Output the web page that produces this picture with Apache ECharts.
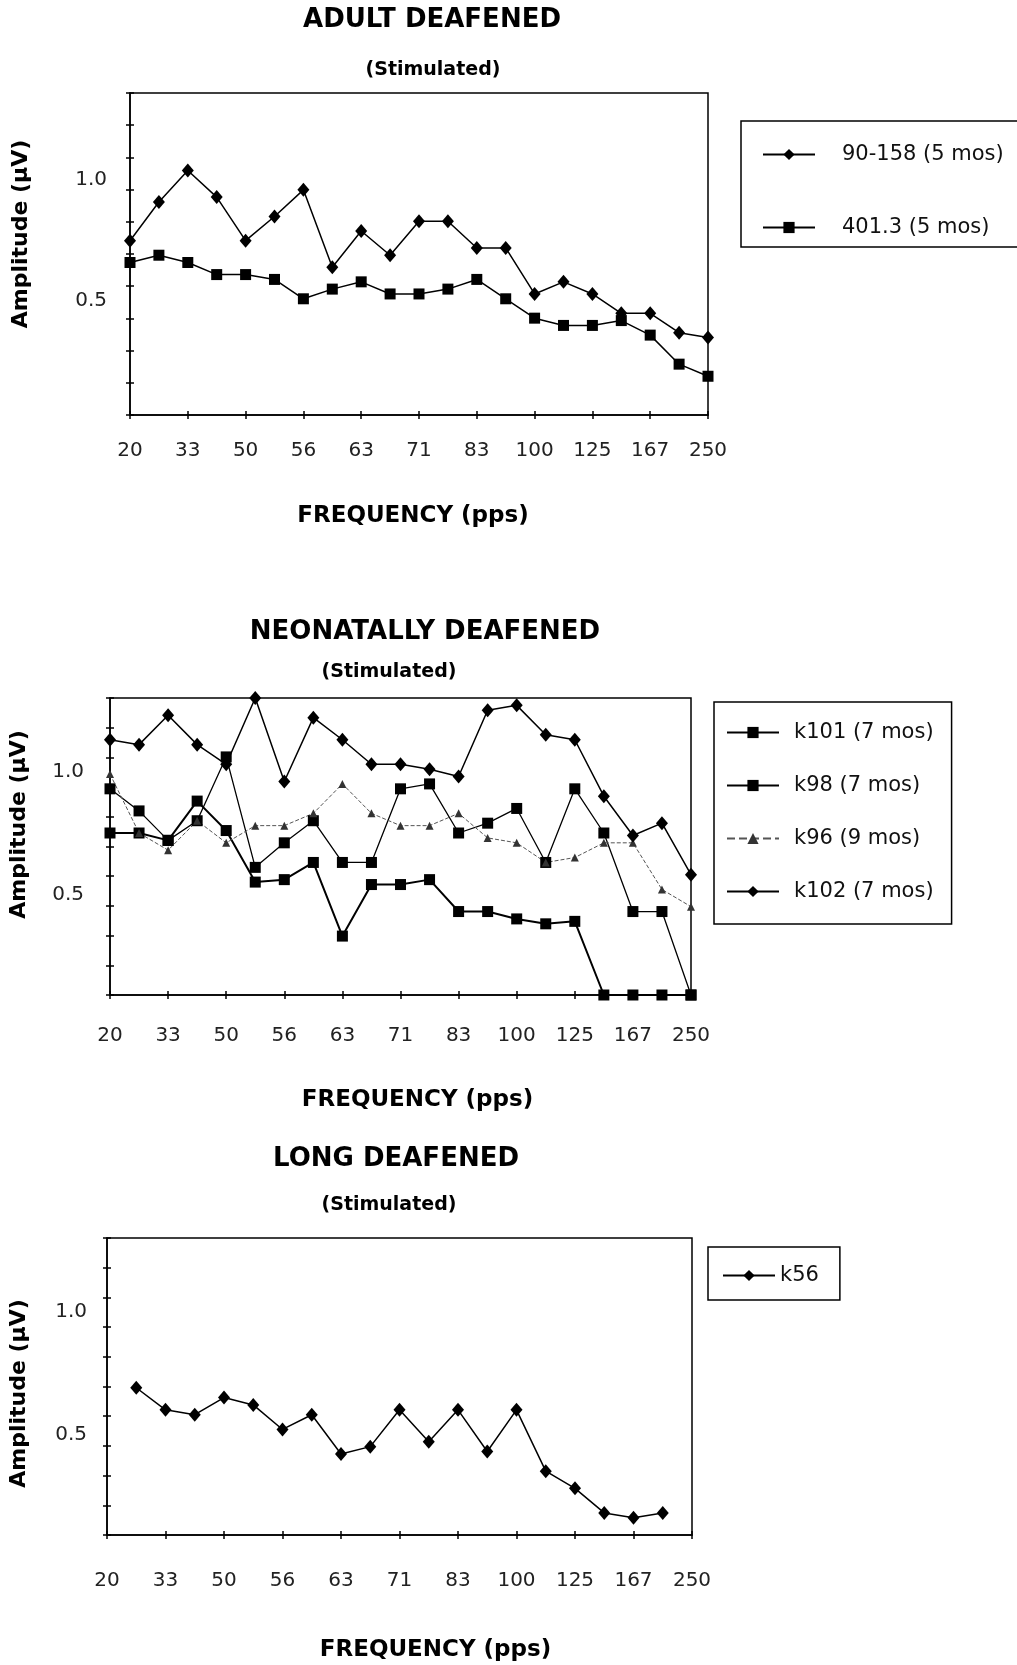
<!DOCTYPE html>
<html>
<head>
<meta charset="utf-8">
<title>Amplitude vs frequency</title>
<script src="https://cdn.jsdelivr.net/npm/echarts@6/dist/echarts.min.js"></script>
<style>
  html, body { margin: 0; padding: 0; background: #fff; }
  #chart { width: 1017px; height: 1665px; }
</style>
</head>
<body>
<div id="chart"></div>
<script>
// stimulation rates (pps); only every other one is labelled on the axis
const freqs = ['20', '25', '33', '40', '50', '53', '56', '59', '63', '67', '71',
  '77', '83', '91', '100', '111', '125', '143', '167', '200', '250']
const yLabels = [0.5, 1.0]

// adult deafened
const adult90_158 = [0.75, 0.91, 1.04, 0.93, 0.75, 0.85, 0.96, 0.64, 0.79, 0.69, 0.83,
  0.83, 0.72, 0.72, 0.53, 0.58, 0.53, 0.45, 0.45, 0.37, 0.35]
const adult401_3 = [0.66, 0.69, 0.66, 0.61, 0.61, 0.59, 0.51, 0.55, 0.58, 0.53, 0.53,
  0.55, 0.59, 0.51, 0.43, 0.40, 0.40, 0.42, 0.36, 0.24, 0.19]

// neonatally deafened
const k101 = [0.75, 0.75, 0.72, 0.88, 0.76, 0.55, 0.56, 0.63, 0.33, 0.54, 0.54,
  0.56, 0.43, 0.43, 0.40, 0.38, 0.39, 0.09, 0.09, 0.09, 0.09]
const k98 = [0.93, 0.84, 0.72, 0.80, 1.06, 0.61, 0.71, 0.80, 0.63, 0.63, 0.93,
  0.95, 0.75, 0.79, 0.85, 0.63, 0.93, 0.75, 0.43, 0.43, 0.09]
const k96 = [0.99, 0.75, 0.68, 0.80, 0.71, 0.78, 0.78, 0.83, 0.95, 0.83, 0.78,
  0.78, 0.83, 0.73, 0.71, 0.63, 0.65, 0.71, 0.71, 0.52, 0.45]
const k102 = [1.13, 1.11, 1.23, 1.11, 1.03, 1.30, 0.96, 1.22, 1.13, 1.03, 1.03,
  1.01, 0.98, 1.25, 1.27, 1.15, 1.13, 0.90, 0.74, 0.79, 0.58]

// long deafened
const k56 = [null, 0.69, 0.60, 0.58, 0.65, 0.62, 0.52, 0.58, 0.42, 0.45, 0.60,
  0.47, 0.60, 0.43, 0.60, 0.35, 0.28, 0.18, 0.16, 0.18, null]

const boldFont = 'DejaVu Sans'
const plainFont = 'DejaVu Sans'

// 10 tick intervals between the ends of each y axis
function tickValues (min, max) {
  const out = []
  for (let i = 0; i <= 10; i++) out.push(min + (max - min) * i / 10)
  return out
}

function xAxes (gridIndex, nameGap, namePad, labelMargin) {
  return [{
    type: 'category', gridIndex, data: freqs, boundaryGap: false, position: 'bottom',
    name: 'FREQUENCY (pps)', nameLocation: 'middle', nameGap,
    nameTextStyle: { fontFamily: boldFont, fontWeight: 'bold', fontSize: 23, color: '#000', padding: namePad },
    axisLine: { onZero: false, lineStyle: { color: '#000', width: 1.5 } },
    axisTick: { interval: 1, length: 4, lineStyle: { color: '#000', width: 1.5 } },
    axisLabel: { interval: 1, margin: labelMargin, fontFamily: plainFont, fontSize: 20, color: '#222' },
    splitLine: { show: false }
  }, {
    type: 'category', gridIndex, data: freqs, boundaryGap: false, position: 'bottom',
    axisLine: { show: false, onZero: false },
    axisTick: { interval: 1, inside: true, length: 4, lineStyle: { color: '#000', width: 1.5 } },
    axisLabel: { show: false },
    splitLine: { show: false }
  }]
}

function yAxes (gridIndex, min, max, nameGap, namePad, labelMargin) {
  const ticks = tickValues(min, max)
  return [{
    type: 'value', gridIndex, min, max, position: 'left',
    name: 'Amplitude (μV)', nameLocation: 'middle', nameGap, nameRotate: 90,
    nameTextStyle: { fontFamily: boldFont, fontWeight: 'bold', fontSize: 22, color: '#000', padding: namePad },
    axisLine: { show: true, lineStyle: { color: '#000', width: 1.5 } },
    axisTick: { show: true, length: 4, customValues: ticks, lineStyle: { color: '#000', width: 1.5 } },
    axisLabel: {
      customValues: yLabels, margin: labelMargin, formatter: v => v.toFixed(1),
      fontFamily: plainFont, fontSize: 20, color: '#222'
    },
    splitLine: { show: false }
  }, {
    type: 'value', gridIndex, min, max, position: 'left',
    axisLine: { show: false },
    axisTick: { show: true, inside: true, length: 4, customValues: ticks, lineStyle: { color: '#000', width: 1.5 } },
    axisLabel: { show: false },
    splitLine: { show: false }
  }]
}

function line (name, data, axis, symbol, size, extra) {
  return Object.assign({
    name, type: 'line', data, xAxisIndex: axis * 2, yAxisIndex: axis * 2,
    symbol, symbolSize: size, showAllSymbol: true, connectNulls: false,
    lineStyle: { color: '#000', width: 1.5 },
    itemStyle: { color: '#000' },
    animation: false
  }, extra || {})
}

function legendBox (names, left, top, padding, itemGap, textPad) {
  return {
    data: names, orient: 'vertical', left, top, padding, itemGap,
    itemWidth: 52, itemHeight: 14, selectedMode: false,
    borderColor: '#000', borderWidth: 1.5,
    textStyle: { fontFamily: 'DejaVu Sans', fontSize: 21, color: '#111', padding: [0, 0, 0, textPad] }
  }
}

function titleText (text, x, y, size) {
  return {
    text, left: x, top: y, textAlign: 'center', padding: 0,
    textStyle: { fontFamily: boldFont, fontWeight: 'bold', fontSize: size, color: '#000' }
  }
}

const option = {
  backgroundColor: '#fff',
  title: [
    titleText('ADULT DEAFENED', 432, 7, 26),
    titleText('(Stimulated)', 433, 61, 19),
    titleText('NEONATALLY DEAFENED', 425, 619, 26),
    titleText('(Stimulated)', 389, 663, 19),
    titleText('LONG DEAFENED', 396, 1146, 26),
    titleText('(Stimulated)', 389, 1196, 19)
  ],
  legend: [
    legendBox(['90-158 (5 mos)', '401.3 (5 mos)'], 741, 121, [23, 120, 9, 21], 52, 22),
    legendBox(['k101 (7 mos)', 'k98 (7 mos)', 'k96 (9 mos)', 'k102 (7 mos)'], 714, 702, [20, 18, 22, 12], 32, 10),
    legendBox(['k56'], 708, 1247, [18, 21, 14, 14], 10, 0)
  ],
  grid: [
    { left: 130, top: 93, width: 578, height: 322, show: true, borderColor: '#000', borderWidth: 1.5 },
    { left: 106, top: 698, width: 585, height: 297, show: true, borderColor: '#000', borderWidth: 1.5 },
    { left: 103, top: 1238, width: 589, height: 297, show: true, borderColor: '#000', borderWidth: 1.5 }
  ],
  xAxis: [
    ...xAxes(0, 90, [0, 12, 0, 0], 26),
    ...xAxes(1, 94, [0, 0, 0, 34], 31),
    ...xAxes(2, 104, [0, 0, 0, 72], 36)
  ],
  yAxis: [
    ...yAxes(0, 0.03, 1.36, 98, [0, 0, 0, 40], 23),
    ...yAxes(1, 0.09, 1.30, 80, [0, 0, 0, 44], 26),
    ...yAxes(2, 0.09, 1.30, 77, [0, 14, 0, 0], 20)
  ],
  series: [
    line('90-158 (5 mos)', adult90_158, 0, 'diamond', [12, 14]),
    line('401.3 (5 mos)', adult401_3, 0, 'rect', 11),
    line('k101 (7 mos)', k101, 1, 'rect', 11, { lineStyle: { color: '#000', width: 2 } }),
    line('k98 (7 mos)', k98, 1, 'rect', 11, { lineStyle: { color: '#000', width: 1.3 } }),
    line('k96 (9 mos)', k96, 1, 'triangle', 8, {
      lineStyle: { color: '#555', width: 1, type: 'dashed' }, itemStyle: { color: '#333' }
    }),
    line('k102 (7 mos)', k102, 1, 'diamond', [12, 14]),
    line('k56', k56, 2, 'diamond', [12, 14])
  ]
}

echarts.init(document.getElementById('chart')).setOption(option)
</script>
</body>
</html>
